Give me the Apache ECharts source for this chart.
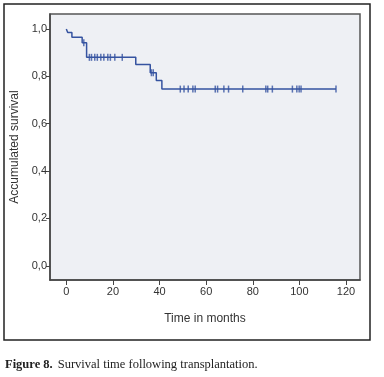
<!DOCTYPE html>
<html>
<head>
<meta charset="utf-8">
<script src="https://cdn.jsdelivr.net/npm/echarts@6/dist/echarts.min.js"></script>
<style>
  html, body { margin: 0; padding: 0; background: #fff; }
  #main { width: 384px; height: 377px; }
</style>
</head>
<body>
<div id="main"></div>
<script>
// Kaplan-Meier steps: [time, survival after the drop]
var stepTimes = [0, 0.6, 2.4, 6.8, 8.7, 29.8, 36.0, 38.6, 41.0, 115.7];
var stepSurvival = [1.0, 0.985, 0.965, 0.942, 0.88, 0.85, 0.815, 0.782, 0.746, 0.746];

// censored cases, grouped by the level they sit on
var censor094 = [7.5];
var censor088 = [9.9, 10.8, 12.2, 13.3, 14.8, 16.1, 17.8, 18.9, 20.8, 24.0];
var censor0815 = [36.5, 37.3];
var censor0746 = [48.9, 50.5, 52.3, 54.3, 55.3, 63.9, 64.9, 67.6, 69.6, 75.7,
  85.6, 86.4, 88.4, 97.0, 98.9, 99.9, 100.7, 115.7];

var xTicks = [0, 20, 40, 60, 80, 100, 120];
var yTicks = [0, 0.2, 0.4, 0.6, 0.8, 1.0];

var lineColor = "#3553a0";
var axisFont = "'Liberation Sans Narrow', 'Liberation Sans', Arial, sans-serif";

function pairs(times, level) {
  return times.map(function(t) { return [t, level]; });
}

var curve = stepTimes.map(function(t, i) { return [t, stepSurvival[i]]; });
var censored = []
  .concat(pairs(censor094, 0.942))
  .concat(pairs(censor088, 0.88))
  .concat(pairs(censor0815, 0.815))
  .concat(pairs(censor0746, 0.746));

var chart = echarts.init(document.getElementById("main"));
var option = {
  animation: false,
  title: {
    left: 5,
    top: 356,
    padding: 0,
    text: "{b|Figure 8.} {r|Survival time following transplantation.}",
    textStyle: {
      fontWeight: "normal",
      rich: {
        b: { fontFamily: "'Liberation Serif', serif", fontWeight: "bold", fontSize: 12.5, color: "#222" },
        r: { fontFamily: "'Liberation Serif', serif", fontWeight: "normal", fontSize: 12.5, color: "#222" }
      }
    }
  },
  graphic: [
    {
      type: "rect",
      shape: { x: 4, y: 4, width: 366, height: 336 },
      style: { fill: "none", stroke: "#222", lineWidth: 1.5 },
      silent: true
    }
  ],
  grid: {
    left: 50,
    top: 14,
    right: 24,
    bottom: 97,
    show: true,
    backgroundColor: "#eef0f4",
    borderColor: "#555",
    borderWidth: 1.5
  },
  xAxis: {
    type: "value",
    min: -7,
    max: 126,
    name: "Time in months",
    nameLocation: "middle",
    nameGap: 33,
    nameTextStyle: { fontFamily: axisFont, fontSize: 12, color: "#333" },
    splitLine: { show: false },
    axisLine: { show: true, onZero: false, lineStyle: { color: "#444", width: 1.5 } },
    axisTick: { show: true, length: 5, customValues: xTicks, lineStyle: { color: "#444" } },
    axisLabel: {
      customValues: xTicks,
      margin: 6,
      fontFamily: axisFont,
      fontSize: 11,
      color: "#333"
    }
  },
  yAxis: {
    type: "value",
    min: -0.06,
    max: 1.063,
    name: "Accumulated survival",
    nameLocation: "middle",
    nameGap: 26,
    nameTextStyle: { fontFamily: axisFont, fontSize: 12, color: "#333" },
    splitLine: { show: false },
    axisLine: { show: true, onZero: false, lineStyle: { color: "#444", width: 1.5 } },
    axisTick: { show: true, length: 4, customValues: yTicks, lineStyle: { color: "#444" } },
    axisLabel: {
      customValues: yTicks,
      margin: 3,
      fontFamily: axisFont,
      fontSize: 11,
      color: "#333",
      formatter: function(v) { return v.toFixed(1).replace(".", ","); }
    }
  },
  series: [
    {
      type: "line",
      step: "end",
      data: curve,
      showSymbol: false,
      lineStyle: { color: lineColor, width: 1.5 }
    },
    {
      type: "scatter",
      data: censored,
      symbol: "rect",
      symbolSize: [1.5, 7],
      itemStyle: { color: lineColor }
    }
  ]
};
chart.setOption(option);
</script>
</body>
</html>
